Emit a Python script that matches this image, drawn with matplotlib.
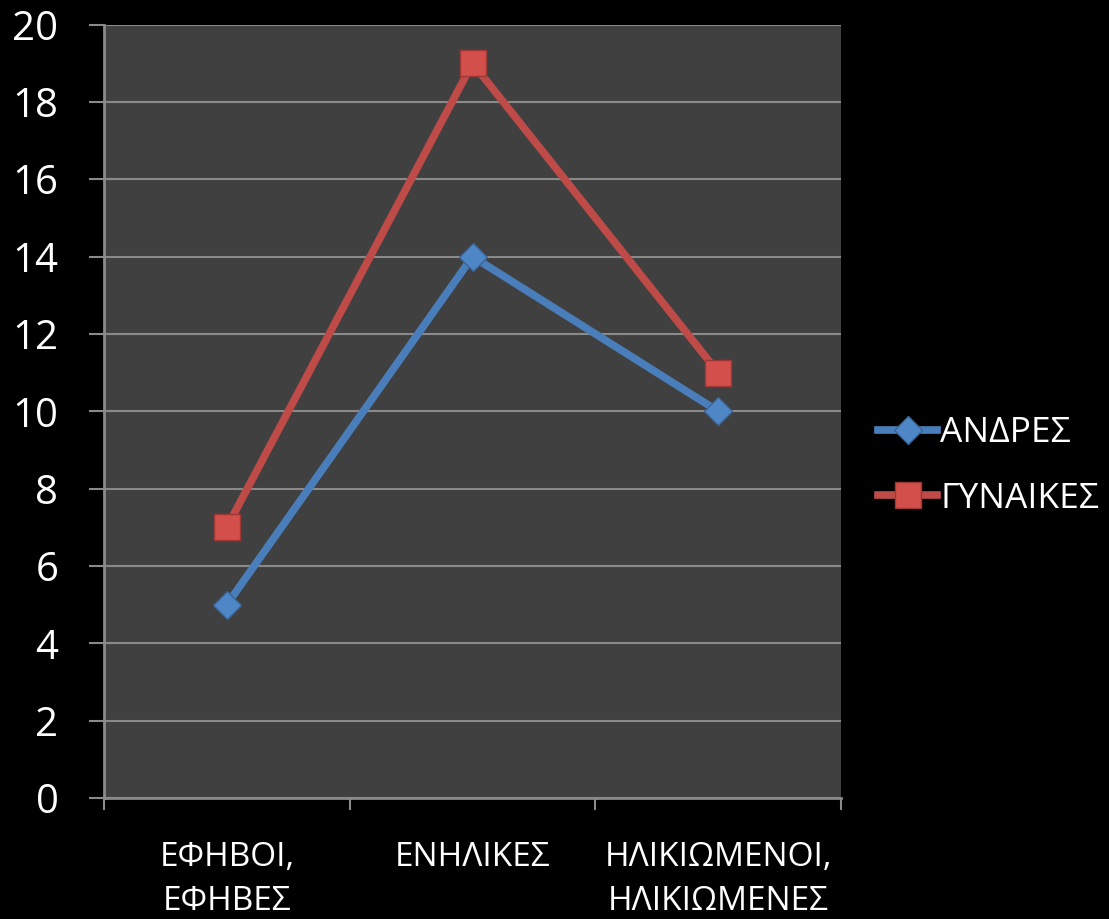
import numpy as np
import matplotlib.pyplot as plt

plt.rcParams['font.family'] = ['Open Sans', 'DejaVu Sans']

categories = ['ΕΦΗΒΟΙ,\nΕΦΗΒΕΣ', 'ΕΝΗΛΙΚΕΣ', 'ΗΛΙΚΙΩΜΕΝΟΙ,\nΗΛΙΚΙΩΜΕΝΕΣ']
men = [5, 14, 10]
women = [7, 19, 11]
series_names = ['ΑΝΔΡΕΣ', 'ΓΥΝΑΙΚΕΣ']
y_ticks = [0, 2, 4, 6, 8, 10, 12, 14, 16, 18, 20]

grid_col = '#8a8a8a'

fig = plt.figure(figsize=(11.09, 9.19), dpi=100, facecolor='black')
ax = fig.add_axes([0.0938, 0.1317, 0.6646, 0.8416])
ax.set_facecolor('#404040')

x = np.arange(len(categories))
ax.plot(x, men, color='#4A7EBB', lw=5.5, marker='D', ms=14,
        mfc='#4F86C6', mec='#3A6596', mew=1.0, label=series_names[0], zorder=3)
ax.plot(x, women, color='#BE4B48', lw=5.5, marker='s', ms=19,
        mfc='#D24F4B', mec='#9E3835', mew=1.0, label=series_names[1], zorder=3)

ax.set_xlim(-0.5, len(categories) - 0.5)
ax.set_ylim(0, 20)
ax.set_yticks(y_ticks)
ax.set_yticklabels([str(v) for v in y_ticks])
ax.yaxis.grid(True, color=grid_col, lw=1.5)
ax.set_axisbelow(True)

ax.set_xticks(x)
ax.set_xticklabels(categories, linespacing=1.45)
ax.set_xticks(np.arange(-0.5, len(categories), 1.0), minor=True)
ax.tick_params(axis='x', which='major', length=0, pad=31, labelsize=24, colors='white')
ax.tick_params(axis='x', which='minor', length=8.6, width=1.5, color=grid_col, direction='out')
ax.tick_params(axis='y', length=10.8, width=1.5, color=grid_col, direction='out',
               pad=22, labelsize=29, labelcolor='white')

for s in ['top', 'right']:
    ax.spines[s].set_visible(False)
for s in ['left', 'bottom']:
    ax.spines[s].set_color(grid_col)
    ax.spines[s].set_linewidth(2)

fig.legend(loc='center left', bbox_to_anchor=(0.792, 0.493), frameon=False,
           fontsize=25.5, labelcolor='white', handlelength=1.67, handletextpad=0.08,
           labelspacing=0.9, borderpad=0, borderaxespad=0)

fig.savefig('out.png', dpi=100, facecolor='black')
